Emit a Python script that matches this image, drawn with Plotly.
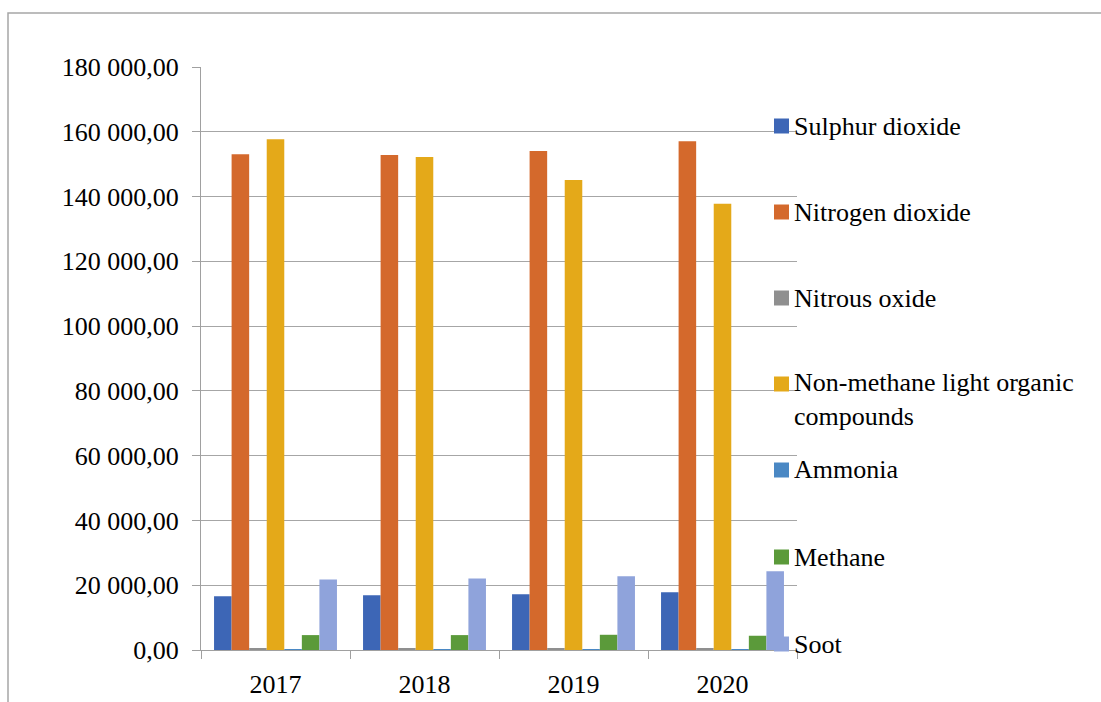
import plotly.graph_objects as go

# Emissions by pollutant, 2017-2020
years = ["2017", "2018", "2019", "2020"]
sulphur_dioxide = [16600, 16900, 17200, 17800]
nitrogen_dioxide = [153100, 152800, 154100, 157100]
nitrous_oxide = [550, 550, 550, 550]
nmvoc = [157700, 152200, 145100, 137800]
ammonia = [120, 120, 120, 120]
methane = [4600, 4600, 4700, 4400]
soot = [21800, 22100, 22800, 24300]

series_names = [
    "Sulphur dioxide",
    "Nitrogen dioxide",
    "Nitrous oxide",
    "Non-methane light organic<br>compounds",
    "Ammonia",
    "Methane",
    "Soot",
]
series_values = [sulphur_dioxide, nitrogen_dioxide, nitrous_oxide, nmvoc,
                 ammonia, methane, soot]
series_colors = ["#3d66b6", "#d4692c", "#8f8f8f", "#e4a919",
                 "#4a88c4", "#5b9a3a", "#8fa3db"]

W, H = 1101, 702
L, R, T, B = 201, 304, 67, 52
plot_w = W - L - R
plot_h = H - T - B

FONT = "Liberation Serif"
LEGEND_FONT = "Times New Roman, Liberation Serif, serif"

fig = go.Figure()
for name, vals, col in zip(series_names, series_values, series_colors):
    fig.add_trace(go.Bar(
        x=years, y=vals, name=name.replace("<br>", " "),
        marker=dict(color=col, line=dict(width=0)),
        showlegend=False,
    ))


def px_x(px):
    return (px - L) / plot_w


def px_y(py):
    return (H - B - py) / plot_h


# Legend drawn to the right, overlapping the plot edge
legend_centers = [126, 212, 298, 384, 470, 557, 644]
shapes = []
annotations = []
for name, col, cy in zip(series_names, series_colors, legend_centers):
    shapes.append(dict(
        type="rect", xref="paper", yref="paper",
        x0=px_x(774), x1=px_x(789), y0=px_y(cy + 7.5), y1=px_y(cy - 7.5),
        fillcolor=col, line=dict(width=0), layer="above",
    ))
    multi = "<br>" in name
    annotations.append(dict(
        xref="paper", yref="paper", x=px_x(792),
        y=px_y(cy - 18) if multi else px_y(cy),
        xanchor="left", yanchor="top" if multi else "middle",
        text=name, showarrow=False, align="left",
        font=dict(family=LEGEND_FONT, size=26, color="#000000"),
    ))

# Chart area border
shapes.append(dict(
    type="rect", xref="paper", yref="paper",
    x0=px_x(8), x1=px_x(W + 20), y0=px_y(H + 20), y1=px_y(13),
    line=dict(color="#a6a6a6", width=1.5), fillcolor="rgba(0,0,0,0)",
    layer="below",
))

fig.update_layout(
    width=W, height=H,
    margin=dict(l=L, r=R, t=T, b=B, pad=0, autoexpand=False),
    paper_bgcolor="white", plot_bgcolor="white",
    barmode="group", bargap=0.175, bargroupgap=0,
    separators=", ",
    font=dict(family=FONT, size=26, color="#000000"),
    shapes=shapes, annotations=annotations,
    showlegend=False,
)
fig.update_xaxes(
    automargin=False,
    showgrid=False, showline=True, linecolor="#a0a0a0", linewidth=1.2,
    ticks="outside", tickson="boundaries", ticklen=8, tickcolor="#a0a0a0",
    tickwidth=1.2, tickfont=dict(family=FONT, size=26, color="#000000"),
    ticklabelstandoff=11,
)
fig.update_yaxes(
    automargin=False,
    range=[0, 180000], dtick=20000, tickformat=",.2f",
    showgrid=True, gridcolor="#a6a6a6", gridwidth=1.2,
    showline=True, linecolor="#a0a0a0", linewidth=1.2,
    ticks="outside", ticklen=8, tickcolor="#a0a0a0", tickwidth=1.2,
    tickfont=dict(family=FONT, size=26, color="#000000"),
    ticklabelstandoff=8, zeroline=False,
)

fig.write_html("out.html")
